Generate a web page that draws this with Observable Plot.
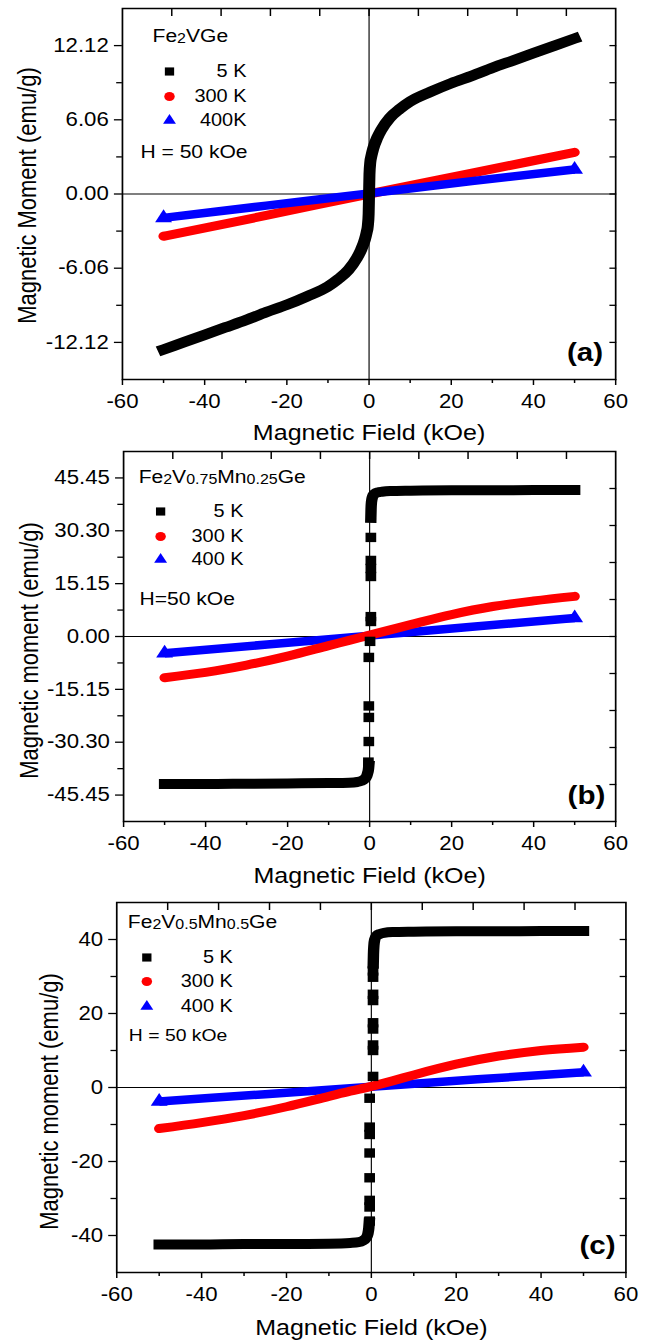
<!DOCTYPE html>
<html><head><meta charset="utf-8">
<script src="https://cdn.jsdelivr.net/npm/d3@7"></script>
<script src="https://cdn.jsdelivr.net/npm/@observablehq/plot@0.6"></script>
<style>
html,body{margin:0;padding:0;background:#fff;}
#chart{width:647px;height:1340px;overflow:hidden;background:#fff;}
.panel{width:647px;overflow:visible;position:relative;}
.panel svg{display:block;transform-origin:0 0;background:transparent !important;}
</style></head><body><div id="chart"></div>
<script>
// ---------- shared axis ticks ----------
const xTicks = [-60, -40, -20, 0, 20, 40, 60];
const xMinorTicks = [-50, -30, -10, 10, 30, 50];
const topTicks = [-48, -36, -24, -12, 0, 12, 24, 36, 48];
const xLabel = "Magnetic Field (kOe)";
const legendLabelsA = ["5 K", "300 K", "400K"];
const legendLabelsBC = ["5 K", "300 K", "400 K"];
const seriesColors = ["#000000", "#ff0000", "#0000ff"];
const seriesSymbols = ["square", "circle", "triangle"];

// ---------- panel (a) Fe2VGe ----------
const formulaA = [["Fe", 0], ["2", 1], ["VGe", 0]];
const fieldLabelA = "H = 50 kOe";
const yLabelA = "Magnetic Moment (emu/g)";
const yTicksA = [-12.12, -6.06, 0, 6.06, 12.12];
const yMinorA = [-9.09, -3.03, 3.03, 9.09];
const yRightA = [-12.12, -9.09, -6.06, -3.03, 0, 3.03, 6.06, 9.09, 12.12];
const fieldA5 = [-50,-45,-40,-35,-30,-25,-20,-15,-10,-7.5,-5,-3,-2,-1,-0.6,-0.3,-0.1,0,0.1,0.3,0.6,1,2,3,5,7.5,10,15,20,25,30,35,40,45,50];
const momentA5 = [-12.7,-12.1,-11.5,-10.9,-10.3,-9.65,-9.05,-8.35,-7.55,-6.95,-6.2,-5.25,-4.6,-3.7,-3.15,-2.6,-1.6,0,1.6,2.6,3.15,3.7,4.6,5.25,6.2,6.95,7.55,8.35,9.05,9.65,10.3,10.9,11.5,12.1,12.7];
const fieldA300 = [-50, -25, 0, 25, 50];
const momentA300 = [-3.45, -1.75, 0.0, 1.7, 3.4];
const fieldA400 = [-50, -25, 0, 25, 50];
const momentA400 = [-1.95, -0.95, 0.05, 1.05, 2.0];

// ---------- panel (b) Fe2V0.75Mn0.25Ge ----------
const formulaB = [["Fe", 0], ["2", 1], ["V", 0], ["0.75", 1], ["Mn", 0], ["0.25", 1], ["Ge", 0]];
const fieldLabelB = "H=50 kOe";
const yLabelB = "Magnetic moment (emu/g)";
const yTicksB = [-45.45, -30.30, -15.15, 0, 15.15, 30.30, 45.45];
const yMinorB = [-37.875, -22.725, -7.575, 7.575, 22.725, 37.875];
const yRightB = [-42.42, -31.815, -21.21, -10.605, 0, 10.605, 21.21, 31.815, 42.42];
const fieldB5up = [0.3,0.35,0.45,0.7,1.2,2,3,5,10,20,30,40,50];
const momentB5up = [34.0,36.5,38.5,40.0,40.9,41.3,41.5,41.7,41.8,41.9,41.9,42.0,42.0];
const fieldB5down = [-50,-40,-30,-20,-10,-5,-3,-2,-1.2,-0.7,-0.45,-0.3,-0.2];
const momentB5down = [-42.3,-42.3,-42.2,-42.1,-42.0,-41.9,-41.7,-41.4,-40.8,-40.0,-39.0,-38.2,-37.0];
const fieldB5dots = [0.3,0.3,0.3,0.3,0.3,0.3,0.1,-0.2,-0.2,-0.2,-0.2,-0.3];
const momentB5dots = [28.4,21.8,19.5,17.2,5.7,4.3,-1.4,-6.0,-19.9,-23.2,-30.1,-36.0];
const fieldB300 = [-50,-40,-30,-20,-10,-5,0,5,10,20,30,40,50];
const momentB300 = [-11.8,-10.3,-8.2,-5.6,-2.6,-1.1,0.4,1.9,3.4,6.3,8.6,10.2,11.5];
const fieldB400 = [-50, -25, 0, 25, 50];
const momentB400 = [-4.8, -2.3, 0.25, 2.8, 5.3];

// ---------- panel (c) Fe2V0.5Mn0.5Ge ----------
const formulaC = [["Fe", 0], ["2", 1], ["V", 0], ["0.5", 1], ["Mn", 0], ["0.5", 1], ["Ge", 0]];
const fieldLabelC = "H = 50 kOe";
const yLabelC = "Magnetic moment (emu/g)";
const yTicksC = [-40, -20, 0, 20, 40];
const yMinorC = [-30, -10, 10, 30];
const yRightC = [-40, -30, -20, -10, 0, 10, 20, 30, 40];
const fieldC5up = [0.45,0.5,0.6,0.8,1.2,2,3,5,10,20,30,40,50];
const momentC5up = [33.5,36.0,38.3,40.0,41.0,41.5,41.8,42.0,42.1,42.2,42.2,42.3,42.3];
const fieldC5down = [-50,-40,-30,-20,-10,-5,-3,-2,-1.2,-0.8,-0.6,-0.5];
const momentC5down = [-42.4,-42.4,-42.3,-42.3,-42.2,-42.0,-41.8,-41.4,-40.6,-39.5,-38.0,-36.5];
const fieldC5dots = [0.4,0.4,0.4,0.4,0.4,0.4,0.4,0.4,0.4,-0.4,-0.4,-0.4,-0.4,-0.4,-0.4,-0.4,-0.4];
const momentC5dots = [31.5,29.8,25.2,23.5,17.5,15.8,11.5,10.0,3.0,-2.9,-10.7,-12.7,-17.7,-24.4,-30.5,-32.3,-36.1];
const fieldC300 = [-50,-40,-30,-20,-10,-5,0,5,10,20,30,40,50];
const momentC300 = [-11.1,-9.5,-7.6,-5.2,-2.4,-1.0,0.3,1.8,3.4,6.3,8.5,10.0,10.9];
const fieldC400 = [-50, -25, 0, 25, 50];
const momentC400 = [-3.8, -1.8, 0.2, 2.2, 4.1];

// ---------- rendering ----------
const W = 568;
const SX = 647 / W;
const FONT = "'Liberation Sans', Arial, Helvetica, sans-serif";
const zip = (xs, ys) => xs.map((x, i) => ({x, y: ys[i]}));

function lineMark(xs, ys, color, sw, cap) {
  return Plot.line(zip(xs, ys), {x: "x", y: "y", stroke: color, strokeWidth: sw,
    strokeLinecap: cap, strokeLinejoin: "round", curve: "monotone-x"});
}
function blueMarks(xs, ys) {
  const pts = zip(xs, ys);
  return [
    lineMark(xs, ys, seriesColors[2], 8.5, "butt"),
    Plot.dot([pts[0], pts[pts.length - 1]], {x: "x", y: "y", symbol: "triangle", r: 5.5, fill: seriesColors[2]})
  ];
}
function redMarks(xs, ys) { return [lineMark(xs, ys, seriesColors[1], 9, "round")]; }

function label(txt, opts) {
  return Plot.text([txt], {text: d => d, lineAnchor: "middle", ...opts});
}

function buildPanel(p) {
  const marks = [
    Plot.ruleY([0], {stroke: "#000", strokeWidth: 1}),
    Plot.ruleX([0], {stroke: "#000", strokeWidth: 1})
  ];
  marks.push(...p.dataMarks);
  marks.push(Plot.frame({stroke: "#000", strokeWidth: 1.5}));
  // axes
  marks.push(Plot.axisX({anchor: "bottom", ticks: xTicks, tickSize: 6, tickPadding: 9, tickFormat: d => String(d), label: null, fontSize: 19.5, strokeWidth: 1.3}));
  marks.push(Plot.axisX({anchor: "bottom", ticks: xMinorTicks, tickSize: 4, tickFormat: () => "", label: null, strokeWidth: 1.3}));
  marks.push(Plot.axisX({anchor: "top", ticks: topTicks, tickSize: -7, tickFormat: () => "", label: null, strokeWidth: 1.3}));
  marks.push(Plot.axisY({anchor: "left", ticks: p.yTicks, tickSize: 7, tickPadding: 5, tickFormat: p.yFormat, label: null, fontSize: 19.5, strokeWidth: 1.3}));
  marks.push(Plot.axisY({anchor: "left", ticks: p.yMinor, tickSize: 5, tickFormat: () => "", label: null, strokeWidth: 1.3}));
  marks.push(Plot.axisY({anchor: "right", ticks: p.yRight, tickSize: -6, tickFormat: () => "", label: null, strokeWidth: 1.3}));
  // axis titles
  marks.push(label(xLabel, {frameAnchor: "bottom", dy: p.xLabelDy, textAnchor: "middle", fontSize: 22}));
  marks.push(label(p.yLabel, {frameAnchor: "left", rotate: -90, dx: p.yLabelDx, dy: p.yLabelDy, textAnchor: "middle", fontSize: 22}));
  // legend
  const fText = p.formula.map(s => s[0]).join("");
  marks.push(label(fText, {frameAnchor: "top-left", dx: p.lg.fx, dy: p.lg.fy, textAnchor: "start", fontSize: p.lg.ffs}));
  for (let i = 0; i < 3; i++) {
    marks.push(Plot.dot([i], {frameAnchor: "top-left", dx: p.lg.mx, dy: p.lg.my[i], symbol: seriesSymbols[i], fill: seriesColors[i], r: i === 2 ? 4.2 : 4.6}));
    marks.push(label(p.labels[i], {frameAnchor: "top-left", dx: p.lg.lx, dy: p.lg.my[i], textAnchor: "end", fontSize: p.lg.lfs}));
  }
  marks.push(label(p.hLabel, {frameAnchor: "top-left", dx: p.lg.hx, dy: p.lg.hy, textAnchor: "start", fontSize: p.lg.hfs}));
  marks.push(label(p.letter, {frameAnchor: "bottom-right", dx: p.letterDx, dy: p.letterDy, textAnchor: "end", fontSize: 26, fontWeight: "bold"}));

  const svg = Plot.plot({
    width: W, height: p.height,
    marginTop: 8, marginBottom: p.mb, marginLeft: p.ml, marginRight: p.mr,
    x: {domain: [-60, 60]},
    y: {domain: p.yDomain},
    style: {fontFamily: FONT, fontSize: "19.5px", color: "#000", background: "transparent", overflow: "visible"},
    marks
  });
  // formula subscripts
  d3.select(svg).selectAll("text").filter(function() { return this.textContent === fText; }).each(function() {
    const t = d3.select(this);
    t.text("");
    p.formula.forEach(([s, sub], k) => {
      const prevSub = k > 0 && p.formula[k - 1][1];
      const ts = t.append("tspan").text(s);
      if (sub) ts.attr("font-size", p.lg.ffs * 0.76).attr("dy", 1);
      else if (prevSub) ts.attr("dy", -1);
    });
  });
  svg.style.transform = `scaleX(${SX})`;
  const div = document.createElement("div");
  div.className = "panel";
  div.style.height = p.height + "px";
  div.appendChild(svg);
  return div;
}

const chart = document.getElementById("chart");
const fmt2 = d => d.toFixed(2);

chart.appendChild(buildPanel({
  height: 443, mb: 64, ml: 107, mr: 28,
  yDomain: [-15.15, 15.15], yTicks: yTicksA, yMinor: yMinorA, yRight: yRightA, yFormat: fmt2,
  yLabel: yLabelA, yLabelDx: -83, yLabelDy: 1.5, xLabelDy: 53,
  formula: formulaA, labels: legendLabelsA, hLabel: fieldLabelA, letter: "(a)", letterDx: -11, letterDy: -27,
  lg: {fx: 26.4, fy: 28, ffs: 18.5, mx: 41.3, my: [63, 88, 112], lx: 108.9, lfs: 17.5, hx: 15.8, hy: 144, hfs: 18.5},
  dataMarks: [
    ...redMarks(fieldA300, momentA300),
    ...blueMarks(fieldA400, momentA400),
    lineMark(fieldA5, momentA5, seriesColors[0], 10.5, "square")
  ]
}));

chart.appendChild(buildPanel({
  height: 451, mb: 73, ml: 108, mr: 28,
  yDomain: [-53.025, 53.025], yTicks: yTicksB, yMinor: yMinorB, yRight: yRightB, yFormat: fmt2,
  yLabel: yLabelB, yLabelDx: -82, yLabelDy: 14, xLabelDy: 54,
  formula: formulaB, labels: legendLabelsBC, hLabel: fieldLabelB, letter: "(b)", letterDx: -9, letterDy: -26,
  lg: {fx: 13.2, fy: 26, ffs: 18.5, mx: 32.5, my: [60, 85, 108], lx: 105.3, lfs: 17.5, hx: 14, hy: 148, hfs: 18.5},
  dataMarks: [
    ...blueMarks(fieldB400, momentB400),
    ...redMarks(fieldB300, momentB300),
    lineMark(fieldB5up, momentB5up, seriesColors[0], 10, "square"),
    lineMark(fieldB5down, momentB5down, seriesColors[0], 10, "square"),
    Plot.dot(zip(fieldB5dots, momentB5dots), {x: "x", y: "y", symbol: "square", r: 5.3, fill: seriesColors[0]})
  ]
}));

chart.appendChild(buildPanel({
  height: 446, mb: 68, ml: 102, mr: 19,
  yDomain: [-50, 50], yTicks: yTicksC, yMinor: yMinorC, yRight: yRightC, yFormat: d => String(d),
  yLabel: yLabelC, yLabelDx: -59, yLabelDy: 14, xLabelDy: 55,
  formula: formulaC, labels: legendLabelsBC, hLabel: fieldLabelC, letter: "(c)", letterDx: -9, letterDy: -27,
  lg: {fx: 9.7, fy: 20, ffs: 18.5, mx: 26.4, my: [55, 79, 104], lx: 101.9, lfs: 17.5, hx: 10.6, hy: 133, hfs: 17},
  dataMarks: [
    ...blueMarks(fieldC400, momentC400),
    ...redMarks(fieldC300, momentC300),
    lineMark(fieldC5up, momentC5up, seriesColors[0], 10, "square"),
    lineMark(fieldC5down, momentC5down, seriesColors[0], 10, "square"),
    Plot.dot(zip(fieldC5dots, momentC5dots), {x: "x", y: "y", symbol: "square", r: 5.3, fill: seriesColors[0]})
  ]
}));
</script></body></html>
